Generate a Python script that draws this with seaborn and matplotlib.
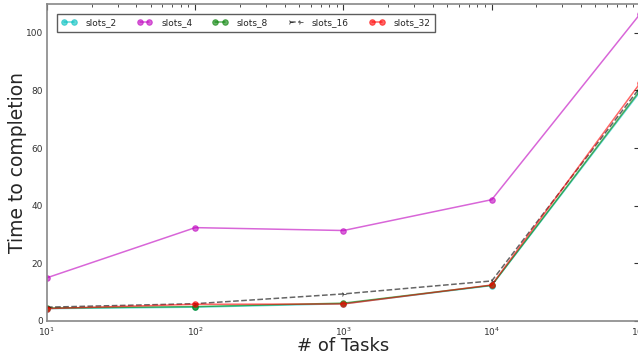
import matplotlib
matplotlib.use("Agg")
import matplotlib.pyplot as plt
import seaborn as sns
import pandas as pd

tasks = [10, 100, 1000, 10000, 100000]
slots_2 = [4.3, 4.8, 6.0, 12.3, 79.5]
slots_4 = [15.0, 32.4, 31.4, 42.1, 106.5]
slots_8 = [4.5, 5.0, 6.2, 12.4, 80.0]
slots_16 = [4.8, 6.0, 9.4, 13.9, 81.0]
slots_32 = [4.3, 5.8, 5.9, 12.5, 82.5]
series_names = ["slots_2", "slots_4", "slots_8", "slots_16", "slots_32"]

sns.set_style("white")
plt.rcParams['font.family'] = ['DejaVu Sans']

fig = plt.figure(figsize=(6.38, 3.58), dpi=100)
ax = fig.add_axes([47/638, (358-321)/358, (640-47)/638, (321-4)/358])

styles = {
    "slots_2": dict(color="#00bfbf", linestyle="-", marker="o"),
    "slots_4": dict(color="#bf00bf", linestyle="-", marker="o"),
    "slots_8": dict(color="#008000", linestyle="-", marker="o"),
    "slots_16": dict(color="#000000", linestyle="--", marker="4"),
    "slots_32": dict(color="#ff0000", linestyle="-", marker="o"),
}
data = dict(zip(series_names, [slots_2, slots_4, slots_8, slots_16, slots_32]))
for name in series_names:
    st = styles[name]
    sns.lineplot(x=tasks, y=data[name], ax=ax, label=name, color=st["color"],
                 linestyle=st["linestyle"], marker=st["marker"], markersize=4,
                 markeredgecolor=st["color"], alpha=0.6, linewidth=1.1)

ax.set_xscale("log")
ax.set_xlim(10, 100000)
ax.set_ylim(0, 110)
ax.set_yticks([0, 20, 40, 60, 80, 100])
ax.set_xlabel("# of Tasks", fontsize=13)
ax.set_ylabel("Time to completion", fontsize=13.5)
ax.yaxis.set_label_coords(-0.034, 0.5)
ax.xaxis.set_label_coords(0.5, -0.05)
ax.tick_params(axis="both", which="both", direction="in", top=True, right=True,
               labelsize=6.5, colors="#333333", length=4, pad=3)
ax.tick_params(which="minor", length=2)
for s in ax.spines.values():
    s.set_color("#888888")
    s.set_linewidth(1.2)

leg = ax.legend(loc="upper left", ncol=5, fontsize=6.5, frameon=True, fancybox=False,
                numpoints=2, bbox_to_anchor=(0.0, 1.0), borderaxespad=1.1,
                columnspacing=2.2, handlelength=1.7, handletextpad=1.0,
                borderpad=0.5)
leg.get_frame().set_edgecolor("#333333")
leg.get_frame().set_linewidth(1.0)

fig.savefig("out.png", dpi=100)
